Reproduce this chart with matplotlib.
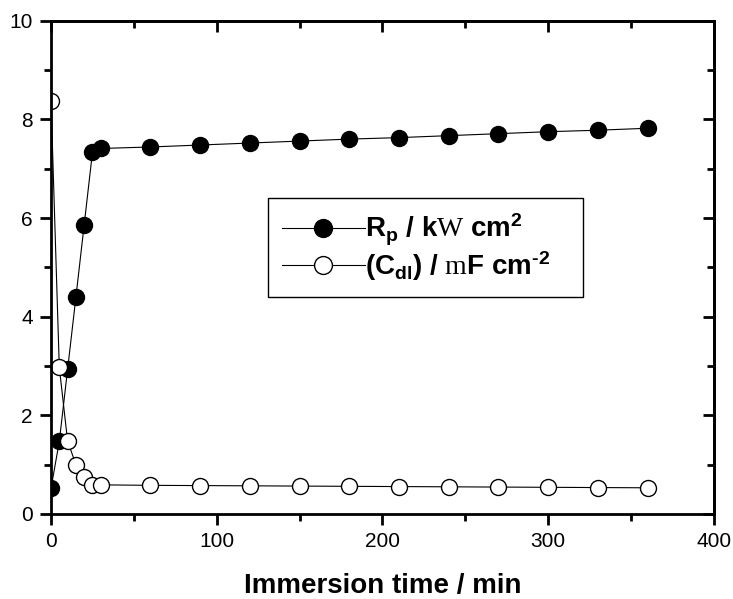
import matplotlib
matplotlib.use("Agg")
import matplotlib.pyplot as plt
from matplotlib.ticker import MultipleLocator

plt.rcParams['font.family'] = ['Liberation Sans', 'DejaVu Sans']
plt.rcParams['mathtext.fontset'] = 'custom'
plt.rcParams['mathtext.rm'] = 'Liberation Serif'
plt.rcParams['mathtext.bf'] = 'Liberation Sans:bold'
plt.rcParams['mathtext.it'] = 'Liberation Sans:bold'

# immersion time (min)
time_min = [0, 5, 10, 15, 20, 25, 30, 60, 90, 120, 150, 180, 210, 240, 270, 300, 330, 360]
# polarization resistance
rp = [0.52, 1.47, 2.93, 4.39, 5.86, 7.33, 7.41, 7.44, 7.48, 7.52, 7.56, 7.60, 7.63,
      7.67, 7.71, 7.75, 7.78, 7.82]
# double layer capacitance
cdl = [8.38, 2.97, 1.48, 1.0, 0.75, 0.59, 0.59, 0.58, 0.575, 0.57, 0.565, 0.56, 0.555,
       0.55, 0.545, 0.54, 0.535, 0.53]

label_rp = r'R$_\mathbf{p}$ / k$\mathrm{W}$ cm$^\mathbf{2}$'
label_cdl = r'(C$_\mathbf{dl}$) / $\mathrm{m}$F cm$^\mathbf{' + '\u2010' + r'2}$'

fig = plt.figure(figsize=(7.33, 5.99), dpi=100)
ax = fig.add_axes([0.0696, 0.142, 0.9044, 0.8234])

ax.plot(time_min, rp, '-o', color='black', lw=0.8, ms=11.5,
        mfc='black', mec='black', label=label_rp)
ax.plot(time_min, cdl, '-o', color='black', lw=0.8, ms=11.5,
        mfc='white', mec='black', mew=1.0, label=label_cdl)

ax.set_xlim(0, 400)
ax.set_ylim(0, 10)
ax.xaxis.set_major_locator(MultipleLocator(100))
ax.xaxis.set_minor_locator(MultipleLocator(50))
ax.yaxis.set_major_locator(MultipleLocator(2))
ax.yaxis.set_minor_locator(MultipleLocator(1))

for s in ax.spines.values():
    s.set_linewidth(2)
ax.tick_params(which='both', direction='out', width=2, labelsize=15, pad=5)
ax.tick_params(which='major', length=8)
ax.tick_params(which='minor', length=5)

# inward ticks on top and right
top = ax.secondary_xaxis('top')
top.xaxis.set_major_locator(MultipleLocator(100))
top.xaxis.set_minor_locator(MultipleLocator(50))
top.tick_params(which='both', direction='in', width=2, labeltop=False)
top.tick_params(which='major', length=8)
top.tick_params(which='minor', length=5)
right = ax.secondary_yaxis('right')
right.yaxis.set_major_locator(MultipleLocator(2))
right.yaxis.set_minor_locator(MultipleLocator(1))
right.tick_params(which='both', direction='in', width=2, labelright=False)
right.tick_params(which='major', length=8)
right.tick_params(which='minor', length=5)
for sec in (top, right):
    for s in sec.spines.values():
        s.set_linewidth(2)

ax.set_xlabel('Immersion time / min', fontsize=20, fontweight='bold', labelpad=16)

leg = ax.legend(loc='upper left', bbox_to_anchor=(0.327, 0.441, 0.475, 0.2),
                mode='expand', borderaxespad=0,
                prop={'weight': 'bold', 'size': 20}, handlelength=3,
                handletextpad=0.0, fancybox=False, framealpha=1, markerscale=1.12,
                edgecolor='black', borderpad=0.5, labelspacing=0.05)
leg.get_frame().set_linewidth(1.0)

fig.savefig('out.png', dpi=100)
